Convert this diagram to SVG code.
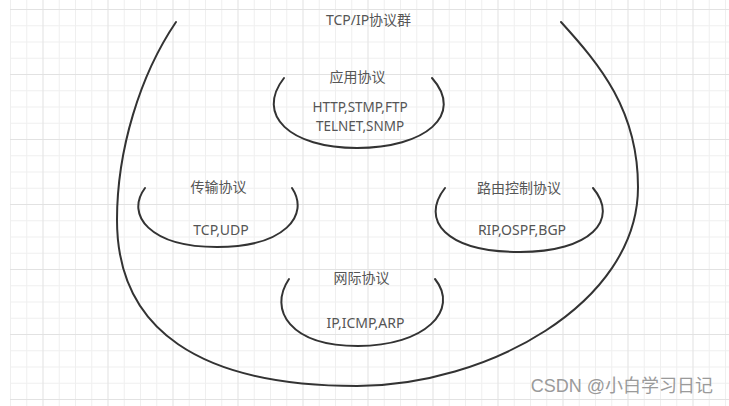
<svg xmlns="http://www.w3.org/2000/svg" width="729" height="406" viewBox="0 0 729 406">
  <defs>
    <pattern id="grid" x="10" y="9" width="65" height="65" patternUnits="userSpaceOnUse">
      <rect x="0" y="0" width="1" height="65" fill="#efefef"/>
      <rect x="16.25" y="0" width="1" height="65" fill="#efefef"/>
      <rect x="48.75" y="0" width="1" height="65" fill="#efefef"/>
      <rect x="0" y="16.25" width="65" height="1" fill="#efefef"/>
      <rect x="0" y="32.5" width="65" height="1" fill="#efefef"/>
      <rect x="0" y="48.75" width="65" height="1" fill="#efefef"/>
      <rect x="32.5" y="0" width="1" height="65" fill="#e2e2e2"/>
      <rect x="0" y="0" width="65" height="1" fill="#e2e2e2"/>
    </pattern>
  </defs>
  <style>
    .curve { fill: none; stroke: #333333; stroke-width: 2; stroke-linecap: round; }
    .label { font-family: "Noto Sans", "Noto Sans CJK SC", sans-serif; font-size: 14px; fill: #555555; text-anchor: middle; }
    .small { font-size: 13.5px; }
    .mark { font-family: "Liberation Sans", "Noto Sans CJK SC", sans-serif; font-size: 18px; fill: #9a9a9a; text-anchor: end; }
  </style>
  <rect x="0" y="0" width="729" height="406" fill="#ffffff"/>
  <rect x="10" y="0" width="719" height="406" fill="url(#grid)"/>

  <g id="tcpip-suite">
    <path class="curve" d="M176,22 C140,75 117,150 117,220 C117,330 200,386 357,386 C485,386 638,305 638,187 C638,110 600,65 561,22"/>
    <text class="label" x="368.5" y="25">TCP/IP协议群</text>
  </g>

  <g id="application">
    <path class="curve" d="M284,78 C255,115 290,148 357,148 C425,148 465,115 432,78"/>
    <text class="label" x="357.5" y="82">应用协议</text>
    <text class="label small" x="360" y="112">HTTP,STMP,FTP</text>
    <text class="label small" x="360" y="131">TELNET,SNMP</text>
  </g>

  <g id="transport">
    <path class="curve" d="M145,188 C125,215 150,247 217,247 C285,247 310,215 292,188"/>
    <text class="label" x="218.5" y="192">传输协议</text>
    <text class="label" x="221" y="235">TCP,UDP</text>
  </g>

  <g id="routing">
    <path class="curve" d="M445,188 C420,220 445,252 520,252 C590,252 620,220 593,188"/>
    <text class="label" x="519" y="193">路由控制协议</text>
    <text class="label" x="522" y="235">RIP,OSPF,BGP</text>
  </g>

  <g id="internet">
    <path class="curve" d="M289,279 C268,310 290,346 358,346 C425,346 460,310 435,279"/>
    <text class="label" x="361.5" y="283">网际协议</text>
    <text class="label" x="365.5" y="328">IP,ICMP,ARP</text>
  </g>

  <text class="mark" x="713" y="392">CSDN @小白学习日记</text>
</svg>
